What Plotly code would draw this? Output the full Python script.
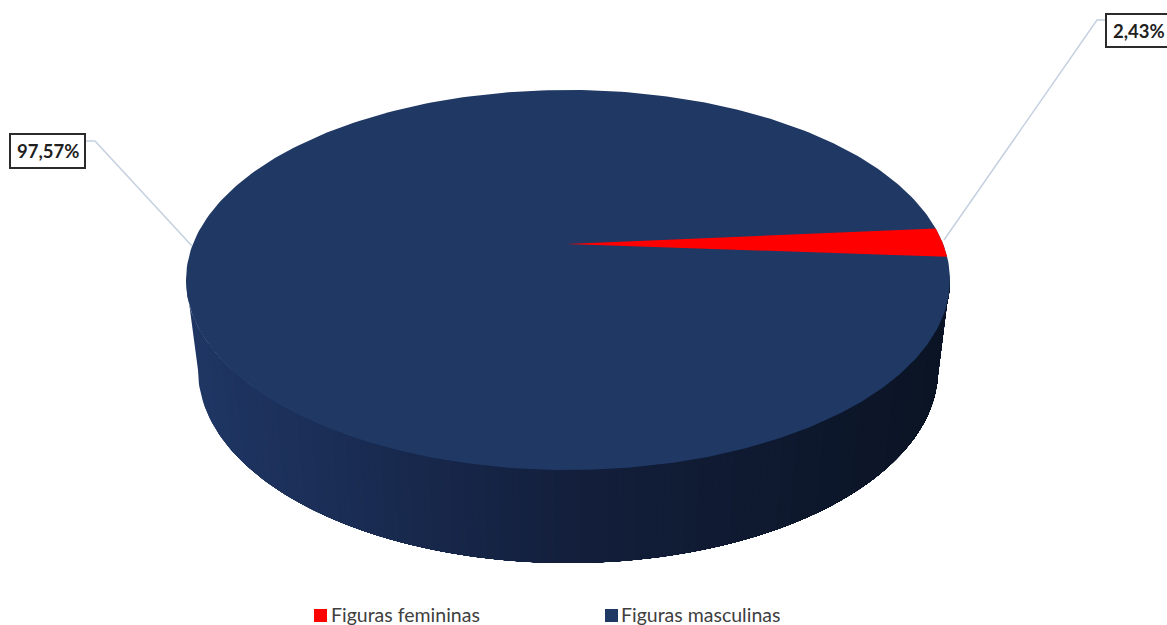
import numpy as np
import plotly.graph_objects as go

categories = ["Figuras femininas", "Figuras masculinas"]
shares = [2.43, 97.57]
label_texts = ["2,43%", "97,57%"]
slice_colors = ["#FF0000", "#1F3864"]

W, H = 1167, 625
CX, CY, RX, RY = 568, 280, 382, 190      # top face
BX, BY, BRX, BRY = 568, 370, 370, 193    # bottom rim
APEX = (566, 244)                        # perspective centre of the top face
START_DEG = 7.0
SIDE_LEFT, SIDE_MID, SIDE_RIGHT = (31, 54, 100), (19, 31, 60), (11, 20, 36)
MARKER_X, MARKER_Y = [320.5, 611.5], [615.5, 615.5]
TEXT_X, TEXT_Y = [331, 621], [617, 617]


def lerp(a, b, f):
    return tuple(int(round(a[i] + (b[i] - a[i]) * f)) for i in range(3))


def side_color(f):
    if f < 0.5:
        return "rgb(%d,%d,%d)" % lerp(SIDE_LEFT, SIDE_MID, f / 0.5)
    return "rgb(%d,%d,%d)" % lerp(SIDE_MID, SIDE_RIGHT, (f - 0.5) / 0.5)


fig = go.Figure()

# gradient side wall: painted left to right, each band reaching the right end,
# so that no seams show between bands
N = 110
cs = np.linspace(-1, 1, N + 1)
for i in range(N):
    t = np.linspace(np.arccos(cs[i]), 0, 180)
    xt, yt = CX + RX * np.cos(t), CY + RY * np.sin(t)
    xb, yb = BX + BRX * np.cos(t), BY + BRY * np.sin(t)
    c = side_color(i / (N - 1))
    fig.add_trace(go.Scatter(
        x=np.r_[xt, xb[::-1]], y=np.r_[yt, yb[::-1]],
        fill="toself", fillcolor=c, mode="lines", line=dict(width=0, color=c),
        showlegend=False, hoverinfo="skip"))

# top face
tt = np.radians(np.linspace(0, 360, 361))
fig.add_trace(go.Scatter(
    x=CX + RX * np.cos(tt), y=CY + RY * np.sin(tt),
    fill="toself", fillcolor=slice_colors[1], mode="lines",
    line=dict(width=0, color=slice_colors[1]),
    name=categories[1], showlegend=False, hoverinfo="skip"))

# small slice: its sweep comes from the share
sweep = shares[0] / sum(shares) * 360
a = np.radians(np.linspace(START_DEG, START_DEG + sweep, 20))
fig.add_trace(go.Scatter(
    x=np.r_[APEX[0], CX + RX * np.cos(a)], y=np.r_[APEX[1], CY - RY * np.sin(a)],
    fill="toself", fillcolor=slice_colors[0], mode="lines",
    line=dict(width=0, color=slice_colors[0]),
    name=categories[0], showlegend=False, hoverinfo="skip"))

# leader lines
for lx, ly in [([1107, 1097, 944], [20, 20, 240]), ([86, 95, 192], [141, 141, 246])]:
    fig.add_trace(go.Scatter(x=lx, y=ly, mode="lines",
                             line=dict(width=1.5, color="#C5D0E0"),
                             showlegend=False, hoverinfo="skip"))

# legend row: square markers and real text beside them
fig.add_trace(go.Scatter(
    x=MARKER_X, y=MARKER_Y, mode="markers", cliponaxis=False,
    marker=dict(symbol="square", size=13, color=slice_colors),
    showlegend=False, hoverinfo="skip"))
fig.add_trace(go.Scatter(
    x=TEXT_X, y=TEXT_Y, mode="text", text=categories,
    textposition="middle right", cliponaxis=False,
    textfont=dict(family="Lato", size=19.5, color="#404040"),
    showlegend=False, hoverinfo="skip"))

shapes = [
    dict(type="rect", x0=1106, x1=1172, y0=14, y1=47, fillcolor="white",
         line=dict(color="#2B2B2B", width=2)),
    dict(type="rect", x0=10, x1=85, y0=134, y1=168, fillcolor="white",
         line=dict(color="#2B2B2B", width=2)),
]
annotations = [
    dict(x=1138.5, y=31, text="<b>%s</b>" % label_texts[0], showarrow=False,
         font=dict(family="Lato", size=18.5, color="#1F1F1F")),
    dict(x=47.5, y=151, text="<b>%s</b>" % label_texts[1], showarrow=False,
         font=dict(family="Lato", size=18.5, color="#1F1F1F")),
]

fig.update_layout(
    width=W, height=H, margin=dict(l=0, r=0, t=0, b=0, autoexpand=False),
    paper_bgcolor="white", plot_bgcolor="white", showlegend=False,
    xaxis=dict(range=[0, W], visible=False, fixedrange=True),
    yaxis=dict(range=[H, 0], visible=False, fixedrange=True),
    shapes=shapes, annotations=annotations,
)
fig.write_html("out.html", config={"displayModeBar": False},
               post_script="document.body.style.margin='0';")
